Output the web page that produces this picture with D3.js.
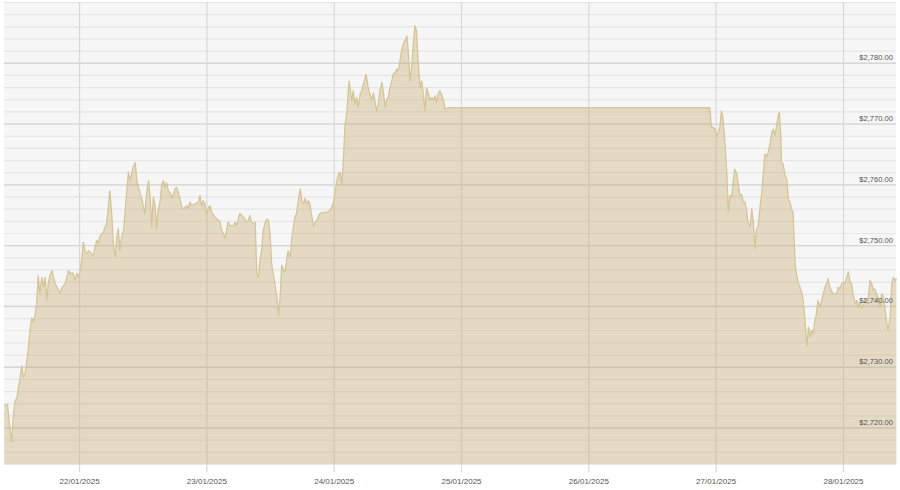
<!DOCTYPE html>
<html>
<head>
<meta charset="utf-8">
<script src="https://cdn.jsdelivr.net/npm/d3@7"></script>
<style>
  body { margin: 0; background: #fff; }
  svg { display: block; font-family: Arial, "Liberation Sans", sans-serif; }
</style>
</head>
<body>
<svg id="chart" width="900" height="490"></svg>
<script>
// price points: [hours since 21/01/2025 00:00, USD]
const tue21 = [
  [9.9, 2723.7], [10.5, 2723.8], [11.0, 2719.6], [11.3, 2717.6], [11.6, 2721.8], [11.9, 2724.2],
  [12.3, 2725.0], [12.6, 2726.7], [12.9, 2728.3], [13.2, 2730.2], [13.5, 2728.3], [13.8, 2728.9],
  [14.1, 2730.6], [14.4, 2732.7], [14.8, 2736.5], [15.1, 2738.0], [15.4, 2737.4], [15.7, 2738.5],
  [16.0, 2740.4], [16.3, 2745.0], [16.6, 2742.1], [17.0, 2744.7], [17.3, 2743.1], [17.6, 2744.7],
  [17.9, 2740.9], [18.2, 2743.7], [18.5, 2745.0], [18.9, 2745.8], [19.2, 2744.7], [19.5, 2743.7],
  [19.8, 2743.1], [20.4, 2742.1], [20.7, 2742.9], [21.4, 2743.7], [22.0, 2745.8], [22.3, 2745.4],
  [22.9, 2745.4], [23.2, 2744.2], [23.6, 2745.4], [23.9, 2744.7]
];
const wed22 = [
  [24.2, 2745.8], [24.5, 2747.5], [24.8, 2750.5], [25.1, 2749.1], [25.5, 2748.6], [25.8, 2749.1],
  [26.4, 2748.6], [26.7, 2748.3], [27.3, 2750.8], [27.6, 2750.3], [28.0, 2751.6], [28.6, 2752.1],
  [28.9, 2753.0], [29.2, 2753.6], [29.5, 2756.0], [29.8, 2759.0], [30.2, 2754.6], [30.5, 2749.7],
  [30.8, 2748.0], [31.1, 2751.3], [31.4, 2752.7], [31.7, 2749.1], [32.0, 2751.3], [32.4, 2752.4],
  [32.7, 2755.7], [33.0, 2759.0], [33.3, 2762.0], [33.6, 2760.6], [33.9, 2761.7], [34.2, 2762.8],
  [34.6, 2763.6], [34.9, 2760.6], [35.2, 2759.5], [35.5, 2758.5], [35.8, 2757.7], [36.1, 2756.5],
  [36.4, 2755.2], [36.8, 2759.0], [37.1, 2760.6], [37.4, 2757.9], [37.7, 2753.0], [38.0, 2757.9],
  [38.3, 2756.8], [38.6, 2752.7], [38.9, 2755.7], [39.3, 2757.3], [39.6, 2760.1], [39.9, 2760.6],
  [40.2, 2759.5], [40.5, 2760.3], [40.8, 2759.0], [41.2, 2758.5], [41.5, 2757.7], [41.8, 2758.5],
  [42.1, 2759.3], [42.4, 2759.5], [42.7, 2758.7], [43.0, 2757.7], [43.4, 2756.2], [43.7, 2756.0],
  [44.3, 2756.5], [44.6, 2756.0], [44.9, 2757.1], [45.2, 2756.5], [45.9, 2756.8], [46.5, 2757.1],
  [46.8, 2758.2], [47.1, 2756.5], [47.4, 2757.3], [47.7, 2756.8]
];
const thu23 = [
  [48.1, 2755.2], [48.4, 2756.2], [48.7, 2756.5], [49.0, 2755.4], [49.6, 2754.6], [50.0, 2754.3],
  [50.6, 2753.8], [50.9, 2752.4], [51.2, 2751.9], [51.5, 2751.1], [51.8, 2752.4], [52.1, 2753.8],
  [52.5, 2753.2], [53.1, 2753.2], [53.4, 2753.8], [53.7, 2753.2], [54.3, 2755.2], [55.0, 2754.6],
  [55.6, 2753.8], [55.9, 2754.1], [56.2, 2754.9], [56.5, 2753.8], [56.9, 2753.5], [57.2, 2753.8],
  [57.5, 2745.3], [57.8, 2744.7], [58.1, 2747.5], [58.4, 2749.1], [58.7, 2752.4], [59.1, 2753.8],
  [59.4, 2754.3], [59.7, 2754.1], [60.0, 2751.9], [60.3, 2746.9], [60.6, 2745.3], [60.9, 2743.7],
  [61.3, 2741.5], [61.6, 2738.5], [61.9, 2741.5], [62.2, 2746.7], [62.8, 2745.5], [63.4, 2749.1],
  [63.8, 2748.0], [64.1, 2751.1], [64.4, 2753.0], [64.7, 2754.6], [65.0, 2755.2], [65.3, 2757.3],
  [65.7, 2759.3], [66.0, 2757.3], [66.3, 2756.8], [66.6, 2757.7], [66.9, 2756.8], [67.2, 2757.3],
  [67.5, 2756.8], [67.9, 2754.6], [68.2, 2753.0], [68.5, 2753.8], [68.8, 2754.1], [69.4, 2755.2],
  [70.0, 2755.4], [70.7, 2755.4], [71.3, 2755.7], [71.6, 2756.2], [71.9, 2756.8]
];
const fri24 = [
  [72.2, 2758.4], [72.6, 2760.6], [72.9, 2761.7], [73.2, 2762.0], [73.5, 2760.1], [73.8, 2763.4],
  [74.1, 2769.4], [74.5, 2772.1], [74.8, 2775.9], [74.9, 2777.0], [75.4, 2773.8], [75.7, 2775.4],
  [76.0, 2773.2], [76.3, 2774.3], [76.6, 2772.7], [77.0, 2774.9], [77.3, 2775.4], [77.6, 2776.5],
  [78.1, 2778.1], [78.5, 2775.9], [78.8, 2774.9], [79.2, 2773.8], [79.5, 2775.1], [79.8, 2773.5],
  [80.1, 2772.1], [80.4, 2773.2], [80.7, 2775.4], [81.1, 2776.8], [81.4, 2774.9], [81.7, 2772.7],
  [82.0, 2774.0], [82.3, 2774.3], [82.6, 2775.9], [82.9, 2776.8], [83.2, 2778.1], [83.6, 2778.4],
  [83.9, 2779.0], [84.2, 2778.7], [84.5, 2780.3], [84.8, 2782.0], [85.1, 2783.1], [85.4, 2783.6],
  [85.8, 2784.4], [86.1, 2781.4], [86.4, 2777.0], [86.7, 2779.2], [87.0, 2783.1], [87.3, 2786.1],
  [87.6, 2785.3], [88.0, 2779.2], [88.3, 2775.9], [88.6, 2777.0], [88.9, 2774.9], [89.2, 2772.1],
  [89.5, 2775.9], [89.8, 2775.1], [90.2, 2773.8], [90.5, 2774.3], [90.8, 2773.8], [91.1, 2774.6],
  [91.4, 2773.5], [91.7, 2774.9], [92.0, 2775.4], [92.4, 2774.6], [92.7, 2773.8], [93.0, 2772.4],
  [93.6, 2772.6]
];
const mon27 = [
  [142.9, 2772.6], [143.2, 2769.4], [143.5, 2769.4], [143.9, 2769.1], [144.2, 2768.0], [144.5, 2768.6],
  [144.8, 2769.4], [145.1, 2772.1], [145.4, 2770.8], [145.8, 2766.4], [146.1, 2762.0], [146.4, 2755.4],
  [146.7, 2758.2], [147.0, 2757.9], [147.3, 2760.3], [147.6, 2762.5], [148.0, 2761.7], [148.3, 2759.8],
  [148.6, 2758.2], [148.9, 2758.4], [149.2, 2757.1], [149.5, 2757.1], [149.8, 2756.0], [150.1, 2753.8],
  [150.5, 2753.0], [150.8, 2756.0], [151.1, 2753.8], [151.4, 2749.4], [151.7, 2752.7], [152.0, 2753.0],
  [152.4, 2756.5], [152.7, 2758.7], [153.0, 2762.0], [153.3, 2765.0], [153.6, 2764.5], [153.9, 2765.3],
  [154.2, 2766.4], [154.6, 2768.6], [154.9, 2769.1], [155.2, 2768.0], [155.5, 2769.7], [155.8, 2771.3],
  [156.0, 2771.8], [156.3, 2768.0], [156.4, 2763.6], [156.7, 2763.4], [157.1, 2761.4], [157.4, 2760.9],
  [157.7, 2757.6], [158.0, 2757.1], [158.3, 2756.0], [158.6, 2755.4], [159.0, 2746.7], [159.3, 2745.0],
  [159.6, 2743.7], [159.9, 2743.1], [160.2, 2742.3], [160.5, 2740.9], [160.8, 2738.2], [161.2, 2733.3],
  [161.5, 2736.5], [161.8, 2734.9], [162.1, 2736.0], [162.4, 2735.4], [162.7, 2737.6], [163.0, 2738.7],
  [163.3, 2740.9], [163.7, 2739.8], [164.0, 2740.9], [164.3, 2742.0], [164.6, 2743.1], [164.9, 2743.7],
  [165.2, 2744.5], [165.5, 2743.1], [165.9, 2742.3], [166.2, 2742.0], [166.8, 2742.0], [167.1, 2743.1],
  [167.4, 2742.8], [167.8, 2743.7]
];
const tue28 = [
  [168.1, 2743.9], [168.4, 2743.7], [168.7, 2744.7], [169.0, 2745.6], [169.3, 2744.2], [169.6, 2743.7],
  [169.9, 2742.0], [170.3, 2740.4], [170.6, 2740.9], [170.9, 2739.8], [171.2, 2740.6], [171.5, 2739.6],
  [171.8, 2740.1], [172.1, 2741.2], [172.5, 2740.4], [172.8, 2741.5], [173.1, 2744.2], [173.4, 2743.7],
  [173.7, 2742.6], [174.0, 2742.8], [174.3, 2742.0], [174.6, 2741.5], [175.0, 2739.8], [175.3, 2742.0],
  [175.6, 2741.5], [175.9, 2739.8], [176.2, 2737.6], [176.5, 2736.0], [176.9, 2738.2], [177.2, 2743.7],
  [177.5, 2744.7], [177.8, 2744.2], [178.1, 2744.5]
];

const dayTicks = ["2025-01-22", "2025-01-23", "2025-01-24", "2025-01-25", "2025-01-26", "2025-01-27", "2025-01-28"];
const priceTicks = [2720, 2730, 2740, 2750, 2760, 2770, 2780];
const timeRange = [9.85, 178.0];
const priceRange = [2714, 2790];

const startDay = new Date(2025, 0, 21);
const toDate = h => new Date(startDay.getTime() + h * 3600e3);
const parseDay = d3.timeParse("%Y-%m-%d");

const series = [tue21, wed22, thu23, fri24, mon27, tue28].flat()
  .map(([h, p]) => ({ date: toDate(h), price: p }));

const svg = d3.select("#chart");
const plot = { left: 4, top: 2, right: 896, bottom: 464 };

const x = d3.scaleTime()
  .domain(timeRange.map(toDate))
  .range([plot.left, plot.right]);

const y = d3.scaleLinear()
  .domain(priceRange)
  .range([plot.bottom, plot.top]);

// plot background
svg.append("rect")
  .attr("x", plot.left)
  .attr("y", plot.top)
  .attr("width", plot.right - plot.left)
  .attr("height", plot.bottom - plot.top)
  .attr("fill", "#f6f6f6");

// minor horizontal grid every $2
svg.append("g")
  .selectAll("line")
  .data(d3.range(priceRange[0], priceRange[1] + 1, 2))
  .join("line")
  .attr("x1", plot.left)
  .attr("x2", plot.right)
  .attr("y1", d => y(d) + 0.5)
  .attr("y2", d => y(d) + 0.5)
  .attr("stroke", "#e6e6e6")
  .attr("stroke-width", 1.2);

// major horizontal grid
svg.append("g")
  .selectAll("line")
  .data(priceTicks)
  .join("line")
  .attr("x1", plot.left)
  .attr("x2", plot.right)
  .attr("y1", d => y(d) + 0.5)
  .attr("y2", d => y(d) + 0.5)
  .attr("stroke", "#d6d6d6")
  .attr("stroke-width", 1.4);

// day gridlines + labels
const xAxis = d3.axisBottom(x)
  .tickValues(dayTicks.map(parseDay))
  .tickFormat(d3.timeFormat("%d/%m/%Y"))
  .tickSizeInner(-(472 - plot.top))
  .tickSizeOuter(0)
  .tickPadding(6);

const gx = svg.append("g")
  .attr("transform", "translate(0,472)")
  .call(xAxis);
gx.select(".domain").remove();
gx.selectAll(".tick line").attr("stroke", "#d9d9d9").attr("stroke-width", 1.2);
gx.selectAll(".tick text")
  .attr("fill", "#555")
  .attr("font-size", "8px")
  .attr("font-family", "Arial, 'Liberation Sans', sans-serif");

// area + line
const area = d3.area()
  .x(d => x(d.date))
  .y0(plot.bottom)
  .y1(d => y(d.price));

const line = d3.line()
  .x(d => x(d.date))
  .y(d => y(d.price));

svg.append("path")
  .datum(series)
  .attr("d", area)
  .attr("fill", "rgba(196,170,107,0.36)");

svg.append("path")
  .datum(series)
  .attr("d", line)
  .attr("fill", "none")
  .attr("stroke", "#d5c597")
  .attr("stroke-width", 1.3)
  .attr("stroke-linejoin", "round");

// price labels on the right, above each major line
const fmt = d3.format("$,.2f");
svg.append("g")
  .selectAll("text")
  .data(priceTicks)
  .join("text")
  .attr("x", 893)
  .attr("y", d => y(d) - 2.5)
  .attr("text-anchor", "end")
  .attr("fill", "#555")
  .attr("font-size", "7.6px")
  .text(d => fmt(d));
</script>
</body>
</html>
